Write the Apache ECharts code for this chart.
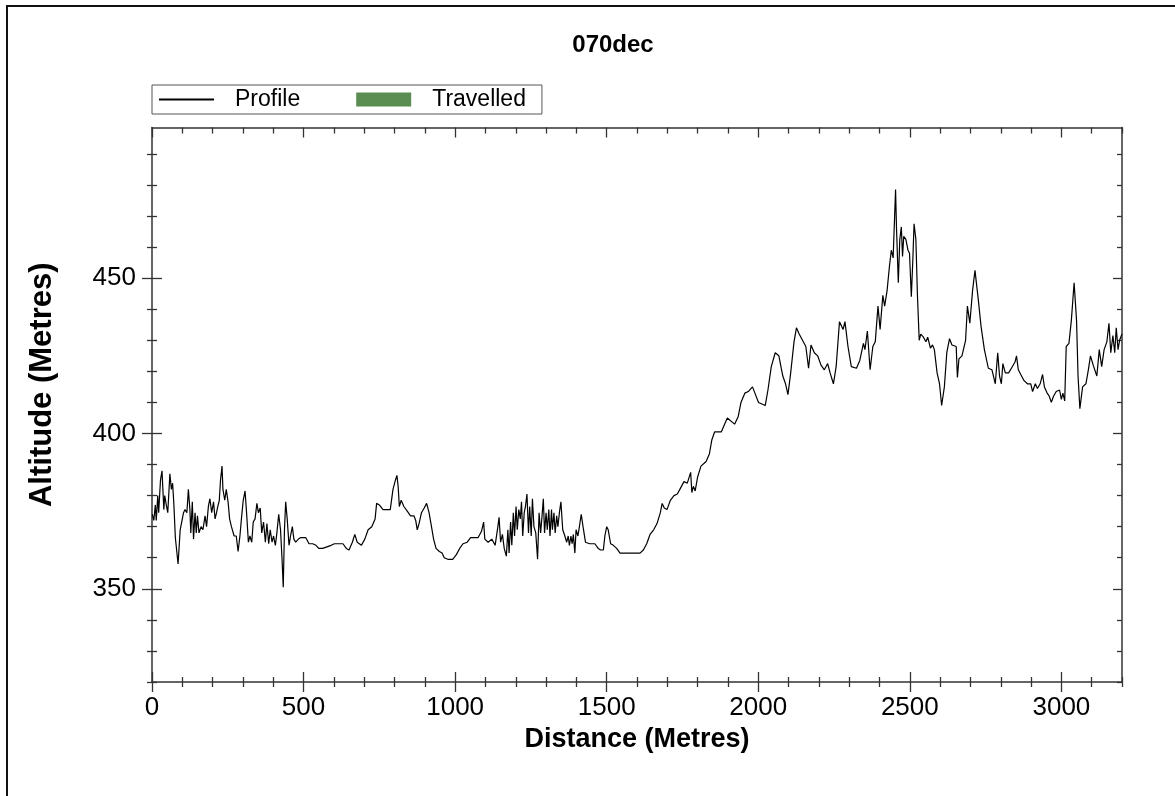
<!DOCTYPE html>
<html><head><meta charset="utf-8">
<script src="https://cdn.jsdelivr.net/npm/echarts@6/dist/echarts.min.js"></script>
<style>html,body{margin:0;padding:0;background:#fff}#c{width:1175px;height:796px}</style>
</head><body><div id="c"></div>
<script>
const titleText = '070dec';
const xAxisName = 'Distance (Metres)';
const yAxisName = 'Altitude (Metres)';
const seriesNames = ['Profile', 'Travelled'];

const distances = [
1,6,11,14,19,22,28,33,39,42,48,52,59,64,68,72,77,81,86,93,97,104,109,115,120,125,128,133,137,142,146,150,155,162,168,175,180,186,191,197,203,208,213,217,222,226,231,234,240,245,251,256,262,271,278,284,290,295,301,307,312,318,323,329,334,340,346,351,357,362,368,374,379,385,390,396,401,407,412,418,424,429,433,437,441,446,452,457,463,468,474,483,491,507,513,518,530,541,550,563,591,602,630,641,650,661,669,677,691,702,713,725,736,741,750,762,786,795,803,808,812,816,822,831,842,853,864,870,875,881,889,898,906,914,922,929,937,948,957,964,976,992,1004,1015,1026,1040,1051,1076,1087,1094,1098,1109,1121,1132,1141,1145,1150,1156,1162,1169,1174,1178,1183,1187,1192,1196,1201,1205,1210,1215,1219,1223,1228,1232,1237,1242,1246,1251,1255,1260,1266,1272,1277,1282,1286,1291,1295,1300,1304,1309,1313,1318,1321,1326,1330,1335,1339,1344,1349,1355,1362,1368,1373,1377,1382,1386,1390,1395,1399,1405,1410,1416,1422,1430,1444,1461,1472,1480,1489,1494,1500,1505,1513,1522,1533,1544,1578,1600,
1610,1621,1632,1643,1655,1666,1677,1683,1690,1699,1710,1722,1733,1744,1755,1766,1777,1781,1786,1792,1800,1811,1828,1839,1847,1856,1878,1889,1898,1922,1934,1943,1956,1967,1981,1989,2001,2023,2032,2043,2056,2068,2081,2090,2098,2107,2118,2126,2135,2146,2157,2166,2174,2185,2196,2207,2218,2229,2237,2248,2257,2268,2280,2286,2296,2307,2324,2335,2347,2352,2360,2369,2378,2386,2395,2402,2411,2417,2425,2433,2439,2445,2453,2456,2462,2467,2472,2476,2480,2487,2494,2499,2505,2510,2514,2520,2525,2531,2536,2545,2553,2559,2568,2575,2581,2590,2598,2605,2614,2622,2631,2639,2653,2657,2662,2672,2684,2690,2698,2707,2715,2726,2735,2746,2759,2771,2782,2790,2796,2802,2807,2815,2826,2838,2847,2852,2858,2866,2877,2888,2899,2905,2914,2921,2930,2938,2944,2953,2960,2967,2974,2983,2994,3000,3005,3011,3016,3025,3033,3042,3050,3055,3061,3070,3081,3089,3096,3105,3117,3125,3133,3141,3150,3157,3163,3170,3176,3181,3187,3192,3200
];
const altitudes = [
374,372,377,372,380,374.5,385,388,375.5,380,376.5,374.5,387,382,384,377.5,366.5,367,358,369,371,374.5,375.5,374.5,382,375.5,368,378,366,374.5,368,373.5,368,370,369,373.5,370,376.5,379,374.5,378,372.5,374.5,376.5,378.5,385,389.5,382,378.5,382,378,372.5,370,367,367,362,367,372.5,378.5,381.5,374.5,365,367,365,371.5,372.5,377.5,374.5,376,368,371.5,365,371,364.5,369,365,367,364,368,374,369,359.5,350.5,369,378,372.5,364,367,370,366,365,366,366.5,366.5,366,364.5,364.5,364,363,363,364,364.5,364.5,363,362.5,365,367.5,365,364,366,369,370,372.5,377.5,377,375.5,375.5,382,385,386.5,383,376.5,378.5,376.5,375,373.5,373.5,372,369,371,374.5,376,377.5,374.5,370,366,363,362,361.5,360,359.5,359.5,361,363,364.5,365,366.5,366.5,368.5,371.5,366,365,366,364,370,373,365,367.5,363,360.5,369,361.5,371.5,364,374.5,367,376.5,369,375.5,372.5,378,367,374.5,376.5,380.5,368,376.5,367,379,370,368,359.5,374.5,368,372.5,379,368,374.5,369,375.5,367,375.5,369,374.5,368,373.5,370,374.5,378,369,367,365,367,364,367,364.5,367.5,361.5,369,367,370,374,370,365,364.5,364.5,363,362.5,362.5,367,370,369,364.5,364,363,361.5,361.5,361.5,
361.5,362.5,364.5,367.5,369,371,374.5,377.5,376,375.5,378.5,380,380.5,382.5,384.5,384,387.5,381,383,381.5,386,389.5,391,393.5,398,400.5,400.5,403,405,403,405.5,410,413,413.5,415,413,410,409,414,421.5,426,425,418.5,416,412.5,419.5,429.5,434,432,430,428,421,428.5,426,425,422,420.5,422.5,419.5,416,421.5,436,433.5,436,428,421.5,421,423.5,429,427,433,420.5,428,429.5,441,433.5,444.5,441,446,454,459,456.5,478.5,466.5,448.5,462.5,466.5,457,463.5,462.5,459,458,444,456,467.5,462.5,445,430,432,431,429.5,431,427.5,428.5,427,419.5,416,409,415,426,430.5,428.5,428,418,424,425,430,441,435.5,446,452.5,443,434.5,427,421,420.5,416,426,418.5,416,422.5,419.5,419.5,421.5,423,425,420.5,419,417,416,416,413.5,416,414.5,416,419,415,413,412,410,412,413.5,414,411,413,410.5,428,429,436.5,448.5,436.5,418.5,408,415,416,420.5,425,422,418.5,427,421.5,427,429.5,435.5,426,431.5,426,434,427,430,432
];
const travelledDistances = [];
const travelledAltitudes = [];

const xRange = [0, 3200];
const yRange = [320, 498.5];
const xMajorTicks = [0, 500, 1000, 1500, 2000, 2500, 3000];
const xMinorTicks = [100,200,300,400,600,700,800,900,1100,1200,1300,1400,1600,1700,1800,1900,2100,2200,2300,2400,2600,2700,2800,2900,3100,3200];
const yMajorTicks = [350, 400, 450];
const yMinorTicks = [320,330,340,360,370,380,390,410,420,430,440,460,470,480,490];

const FONT = 'Liberation Sans, Arial, sans-serif';
const AXIS_COLOR = '#333';
const GREEN = '#5b8c51';

const chart = echarts.init(document.getElementById('c'), null, {renderer: 'canvas'});

function tickAxis(kind, position, values, inside, length, showLine) {
  const range = kind === 'x' ? xRange : yRange;
  return {
    type: 'value', gridIndex: 0, position: position, offset: 0,
    min: range[0], max: range[1],
    axisLine: {show: showLine, onZero: false, lineStyle: {color: AXIS_COLOR, width: 1.5}},
    axisTick: {show: true, inside: inside, length: length, customValues: values,
               lineStyle: {color: AXIS_COLOR, width: 1.3}},
    axisLabel: {show: false},
    splitLine: {show: false},
    minorTick: {show: false}
  };
}

const xMain = tickAxis('x', 'bottom', xMajorTicks, false, 10, true);
xMain.axisLabel = {show: true, customValues: xMajorTicks, fontSize: 26, color: '#000', fontFamily: FONT, margin: 13,
                   formatter: v => String(v)};
xMain.name = xAxisName;
xMain.nameLocation = 'middle';
xMain.nameGap = 41;
xMain.nameTextStyle = {fontSize: 27, fontWeight: 'bold', color: '#000', fontFamily: FONT};

const yMain = tickAxis('y', 'left', yMajorTicks, false, 10, true);
yMain.axisLabel = {show: true, customValues: yMajorTicks, fontSize: 26, color: '#000', fontFamily: FONT, margin: 16,
                   formatter: v => String(v)};
yMain.name = yAxisName;
yMain.nameLocation = 'middle';
yMain.nameGap = 94;
yMain.nameRotate = 90;
yMain.nameTextStyle = {fontSize: 31, fontWeight: 'bold', color: '#000', fontFamily: FONT, padding: [0, 0, 0, 40]};

const option = {
  animation: false,
  backgroundColor: '#fff',
  title: {
    text: titleText, left: 613, top: 33, textAlign: 'center', padding: 0,
    textStyle: {fontSize: 24, fontWeight: 'bold', color: '#000', fontFamily: FONT}
  },
  legend: {
    left: 152, top: 85, orient: 'horizontal',
    padding: [3, 16, 3, 6],
    itemWidth: 55, itemHeight: 14, itemGap: 56,
    borderColor: '#555', borderWidth: 1,
    textStyle: {fontSize: 23, color: '#000', fontFamily: FONT, padding: [0, 0, 0, 16]},
    data: [
      {name: seriesNames[0], itemStyle: {opacity: 0}},
      {name: seriesNames[1], icon: 'rect'}
    ]
  },
  graphic: [{
    type: 'rect', silent: true, z: -10,
    shape: {x: 7, y: 6, width: 2000, height: 2000},
    style: {fill: null, stroke: '#111', lineWidth: 2}
  }],
  grid: {left: 152, right: 53, top: 127.5, bottom: 114, outerBoundsMode: 'none', containLabel: false},
  xAxis: [
    xMain,
    tickAxis('x', 'bottom', xMajorTicks, true, 10, false),
    tickAxis('x', 'bottom', xMinorTicks, false, 5, false),
    tickAxis('x', 'bottom', xMinorTicks, true, 5, false),
    tickAxis('x', 'top', xMajorTicks, true, 10, true),
    tickAxis('x', 'top', xMinorTicks, true, 6, false)
  ],
  yAxis: [
    yMain,
    tickAxis('y', 'left', yMajorTicks, true, 10, false),
    tickAxis('y', 'left', yMinorTicks, false, 5, false),
    tickAxis('y', 'left', yMinorTicks, true, 5, false),
    tickAxis('y', 'right', yMajorTicks, true, 9, true),
    tickAxis('y', 'right', yMinorTicks, true, 5, false)
  ],
  series: [
    {
      name: seriesNames[0], type: 'line', xAxisIndex: 0, yAxisIndex: 0,
      data: distances.map((d, i) => [d, altitudes[i]]),
      symbol: 'none', showSymbol: false,
      lineStyle: {color: '#000', width: 1.2},
      itemStyle: {color: '#000'}
    },
    {
      name: seriesNames[1], type: 'line', xAxisIndex: 0, yAxisIndex: 0,
      data: travelledDistances.map((d, i) => [d, travelledAltitudes[i]]),
      symbol: 'none',
      lineStyle: {color: GREEN, width: 1},
      itemStyle: {color: GREEN},
      areaStyle: {color: GREEN}
    }
  ]
};
chart.setOption(option);
</script>
</body></html>
